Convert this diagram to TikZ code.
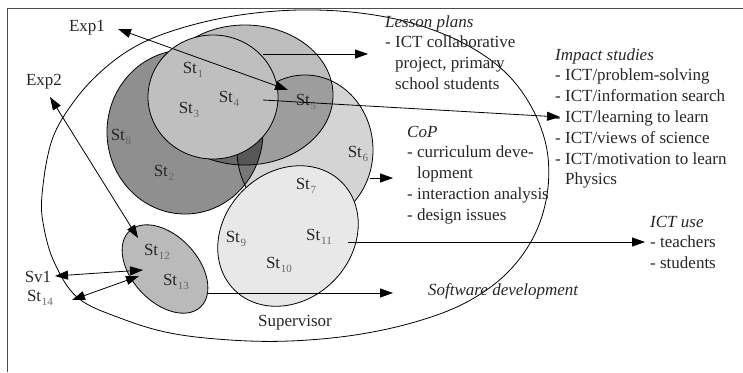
\documentclass[tikz,border=0pt]{standalone}
\usepackage{fontspec}
\setmainfont{Liberation Serif}
\usetikzlibrary{arrows.meta}

\definecolor{grpdark}{gray}{0.56}
\definecolor{grplesson}{gray}{0.74}
\definecolor{grpcop}{gray}{0.83}
\definecolor{grpcore}{gray}{0.75}
\definecolor{grpuse}{gray}{0.91}
\definecolor{grpsoft}{gray}{0.73}

\newcommand{\stlab}[1]{St\kern0.8pt\raisebox{-4pt}{\fontsize{11}{12}\selectfont\color{black!60}#1}}

\begin{document}
\begin{tikzpicture}[x=1pt, y=-1pt,
    grp/.style={draw=black, line width=0.8pt},
    arr/.style={-{Triangle[length=13pt, width=9pt]}, line width=0.8pt},
    dbl/.style={{Triangle[length=13pt, width=9pt]}-{Triangle[length=13pt, width=9pt]}, line width=0.8pt},
    lbl/.style={font=\fontsize{17}{20.8}\selectfont, inner sep=0pt, text=black!85},
    blk/.style={lbl, anchor=base west}
]
\useasboundingbox (0,0) rectangle (743,372);
\draw[black!70, line width=1pt] (7,372) -- (7,8) -- (743,8);

% supervisor ring
\draw[line width=0.8pt] plot[smooth cycle, tension=0.6] coordinates {
    (42,195) (52,140) (75,100) (105,68) (140,44) (185,27) (240,15) (300,10)
    (360,13) (415,24) (465,44) (505,72) (532,108) (547,150) (547,195) (533,238)
    (505,275) (465,303) (415,322) (355,335) (290,341) (230,340) (170,333)
    (120,318) (78,298) (55,264) (44,228)};

% overlapping groups
\begin{scope}[blend mode=multiply]
\filldraw[grp, fill=grpdark] (185,132) ellipse [x radius=78, y radius=82];
\filldraw[grp, fill=grplesson] (245,95) ellipse [x radius=88, y radius=70];
\filldraw[grp, fill=grpcop] (305,150) ellipse [x radius=68, y radius=75];
\end{scope}
\filldraw[grp, fill=grpcore] (213,97) ellipse [x radius=65, y radius=62];
\filldraw[grp, fill=grpuse, rotate around={45:(288,236)}] (288,236) ellipse [x radius=76, y radius=64];
\filldraw[grp, fill=grpsoft, rotate around={-47:(165,269)}] (165,269) ellipse [x radius=52, y radius=33];

% students
\node[lbl] (st1) at (193,70) {\stlab{1}};
\node[lbl] (st2) at (164,173) {\stlab{2}};
\node[lbl] (st3) at (189,110) {\stlab{3}};
\node[lbl] (st4) at (229,99) {\stlab{4}};
\node[lbl] (st5) at (306,102) {\stlab{5}};
\node[lbl] (st6) at (358,154) {\stlab{6}};
\node[lbl] (st7) at (306,186) {\stlab{7}};
\node[lbl] (st8) at (121,137) {\stlab{8}};
\node[lbl] (st9) at (236,239) {\stlab{9}};
\node[lbl] (st10) at (279,265) {\stlab{10}};
\node[lbl] (st11) at (319,237) {\stlab{11}};
\node[lbl] (st12) at (157,252) {\stlab{12}};
\node[lbl] (st13) at (176,282) {\stlab{13}};
\node[lbl] (st14) at (40,298) {\stlab{14}};
\node[lbl] (exp1) at (87,28) {Exp1};
\node[lbl] (exp2) at (44,82) {Exp2};
\node[lbl] (sv1) at (38,277) {Sv1};
\node[lbl] (sup) at (295,323) {Supervisor};

% outcomes
\node[blk] (lesson) at (385,27) {\begin{tabular}[t]{@{}l@{}}\textit{Lesson plans}\\- ICT collaborative\\\phantom{- }project, primary\\\phantom{- }school students\end{tabular}};
\node[blk] (impact) at (555,60) {\begin{tabular}[t]{@{}l@{}}\textit{Impact studies}\\- ICT/problem-solving\\- ICT/information search\\- ICT/learning to learn\\- ICT/views of science\\- ICT/motivation to learn\\\phantom{- }Physics\end{tabular}};
\node[blk] (cop) at (407,137) {\begin{tabular}[t]{@{}l@{}}\textit{CoP}\\- curriculum deve-\\\phantom{- }lopment\\- interaction analysis\\- design issues\end{tabular}};
\node[blk] (ictuse) at (650,227) {\begin{tabular}[t]{@{}l@{}}\textit{ICT use}\\- teachers\\- students\end{tabular}};
\node[blk] (soft) at (428,295) {\textit{Software development}};

% arrow ends
\coordinate (e1a) at (118,29);
\coordinate (e1b) at (288,90);
\coordinate (e2a) at (50,97);
\coordinate (e2b) at (138,238);
\coordinate (sva) at (55,276);
\coordinate (svb) at (143,270);
\coordinate (s14a) at (72,300);
\coordinate (s14b) at (139,276);
\coordinate (lpa) at (263,54);
\coordinate (lpb) at (368,54);
\coordinate (ima) at (263,100);
\coordinate (imb) at (560,117);
\coordinate (cpa) at (370,178);
\coordinate (cpb) at (393,178);
\coordinate (iua) at (348,242);
\coordinate (iub) at (645,242);
\coordinate (sda) at (208,293);
\coordinate (sdb) at (393,293);

\draw[dbl] (e1a) -- (e1b);
\draw[dbl] (e2a) -- (e2b);
\draw[dbl] (sva) -- (svb);
\draw[dbl] (s14a) -- (s14b);
\draw[arr] (lpa) -- (lpb);
\draw[arr] (ima) -- (imb);
\draw[arr] (cpa) -- (cpb);
\draw[arr] (iua) -- (iub);
\draw[arr] (sda) -- (sdb);
\end{tikzpicture}
\end{document}
